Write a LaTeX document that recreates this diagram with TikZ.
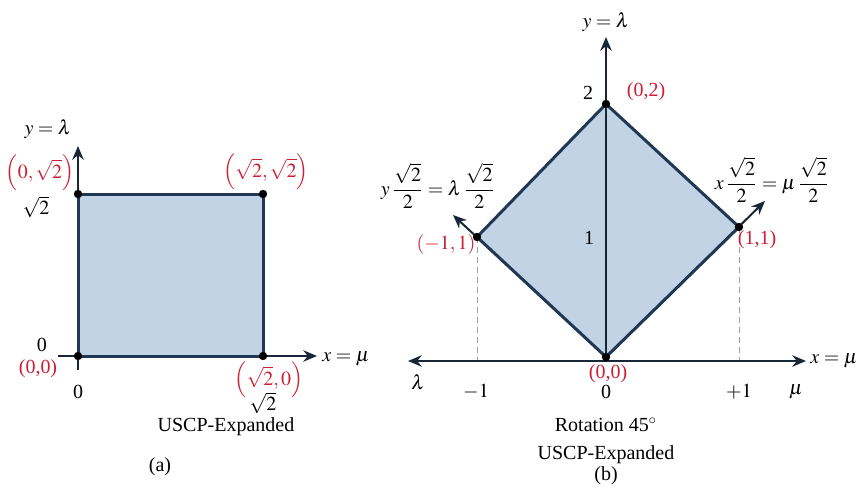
\documentclass[tikz,border=0pt]{standalone}
\usepackage{amsmath}
\usepackage{mathptmx}
\usepackage{fontspec}
\setmainfont{Liberation Serif}
\usepackage{xcolor}
\definecolor{uscpfill}{RGB}{195,211,230}
\definecolor{uscpedge}{RGB}{32,56,84}
\definecolor{uscpaxis}{RGB}{24,38,56}
\definecolor{uscpred}{RGB}{204,30,52}
\usetikzlibrary{arrows.meta}
\tikzset{
  axis/.style  ={draw=uscpaxis, line width=1pt, -{Stealth[length=2.4mm, width=2mm]}},
  daxis/.style ={draw=uscpaxis, line width=1pt, {Stealth[length=2.4mm, width=2mm]}-{Stealth[length=2.4mm, width=2mm]}},
  shp/.style   ={draw=uscpedge, line width=1.5pt, line join=round, fill=uscpfill},
  vdot/.style  ={circle, fill=black, inner sep=0pt, minimum size=4.2pt},
  rlab/.style  ={text=uscpred, inner sep=0pt},
  blab/.style  ={text=black, inner sep=0.5pt},
  guide/.style ={draw=gray!75, densely dashed, line width=0.4pt},
}

\begin{document}
\begin{tikzpicture}[x=0.5pt, y=-0.5pt, font=\fontsize{10}{12}\selectfont]
  \useasboundingbox (0,0) rectangle (858,488);

  % (a) square in the mu-lambda plane
  \coordinate (a0) at (78,356);
  \coordinate (a1) at (78,194);
  \coordinate (a2) at (263,194);
  \coordinate (a3) at (263,356);
  \coordinate (ayb) at (78,370);
  \coordinate (ayt) at (78,146);
  \coordinate (axl) at (58,356);
  \coordinate (axr) at (317,356);
  \fill[uscpfill] (a0) -- (a1) -- (a2) -- (a3) -- cycle;
  \draw[axis] (ayb) -- (ayt);
  \draw[axis] (axl) -- (axr);
  \draw[shp, fill=none] (a0) -- (a1) -- (a2) -- (a3) -- cycle;
  \foreach \p in {a0,a1,a2,a3} \node[vdot] at (\p) {};
  \node[blab] (ayname) at (48,129) {$y=\lambda$};
  \node[blab] (axname) at (346,359) {$x=\mu$};
  \node[rlab] (a1lab) at (40,173) {$\Bigl(0,\sqrt{2}\Bigr)$};
  \node[blab] (a1tick) at (36,207) {$\sqrt{2}$};
  \node[rlab] (a2lab) at (266,172) {$\Bigl(\sqrt{2},\sqrt{2}\Bigr)$};
  \node[blab] (a0tick) at (42,345) {0};
  \node[rlab] (a0lab) at (38,369) {(0,0)};
  \node[blab] (a0xtick) at (78,392) {0};
  \node[rlab] (a3lab) at (269,380) {$\Bigl(\sqrt{2},0\Bigr)$};
  \node[blab] (a3tick) at (263,403) {$\sqrt{2}$};
  \node[blab] (aname) at (226,427) {USCP-Expanded};
  \node[blab] (acap) at (160,467) {(a)};

  % (b) the same square turned by 45 degrees
  \coordinate (b0) at (606,357);
  \coordinate (bl) at (477,237);
  \coordinate (bt) at (606,104);
  \coordinate (br) at (739,227);
  \coordinate (byt) at (606,37);
  \coordinate (bxl) at (408,361);
  \coordinate (bxr) at (806,361);
  \coordinate (bdl) at (453,215);
  \coordinate (bdr) at (765,201);
  \coordinate (blx) at (477,361);
  \coordinate (brx) at (739,361);
  \fill[uscpfill] (b0) -- (bl) -- (bt) -- (br) -- cycle;
  \draw[guide] (bl) -- (blx);
  \draw[guide] (br) -- (brx);
  \draw[daxis] (bxl) -- (bxr);
  \draw[axis] (b0) -- (byt);
  \draw[axis] (b0) -- (bdl);
  \draw[axis] (b0) -- (bdr);
  \draw[shp, fill=none] (b0) -- (bl) -- (bt) -- (br) -- cycle;
  \foreach \p in {b0,bl,bt,br} \node[vdot] at (\p) {};
  \node[blab] (byname) at (606,22) {$y=\lambda$};
  \node[blab] (bxname) at (834,361) {$x=\mu$};
  \node[blab] (bttick) at (588,93) {2};
  \node[rlab] (btlab) at (646,92) {(0,2)};
  \node[blab] (bmid) at (589,238) {1};
  \node[rlab] (bllab) at (446,244) {$(-1,1)$};
  \node[rlab] (brlab) at (757,240) {(1,1)};
  \node[blab] (bdlname) at (438,186) {$y\,\dfrac{\sqrt{2}}{2}=\lambda\,\dfrac{\sqrt{2}}{2}$};
  \node[blab] (bdrname) at (772,180) {$x\,\dfrac{\sqrt{2}}{2}=\mu\,\dfrac{\sqrt{2}}{2}$};
  \node[rlab] (b0lab) at (608,374) {(0,0)};
  \node[blab] (blam) at (418,382) {$\lambda$};
  \node[blab] (bltick) at (476,392) {$-1$};
  \node[blab] (b0tick) at (606,392) {0};
  \node[blab] (brtick) at (739,392) {$+1$};
  \node[blab] (bmu) at (796,392) {$\mu$};
  \node[blab] (brot) at (606,425) {Rotation 45$^{\circ}$};
  \node[blab] (bname) at (606,455) {USCP-Expanded};
  \node[blab] (bcap) at (606,476) {(b)};
\end{tikzpicture}
\end{document}
